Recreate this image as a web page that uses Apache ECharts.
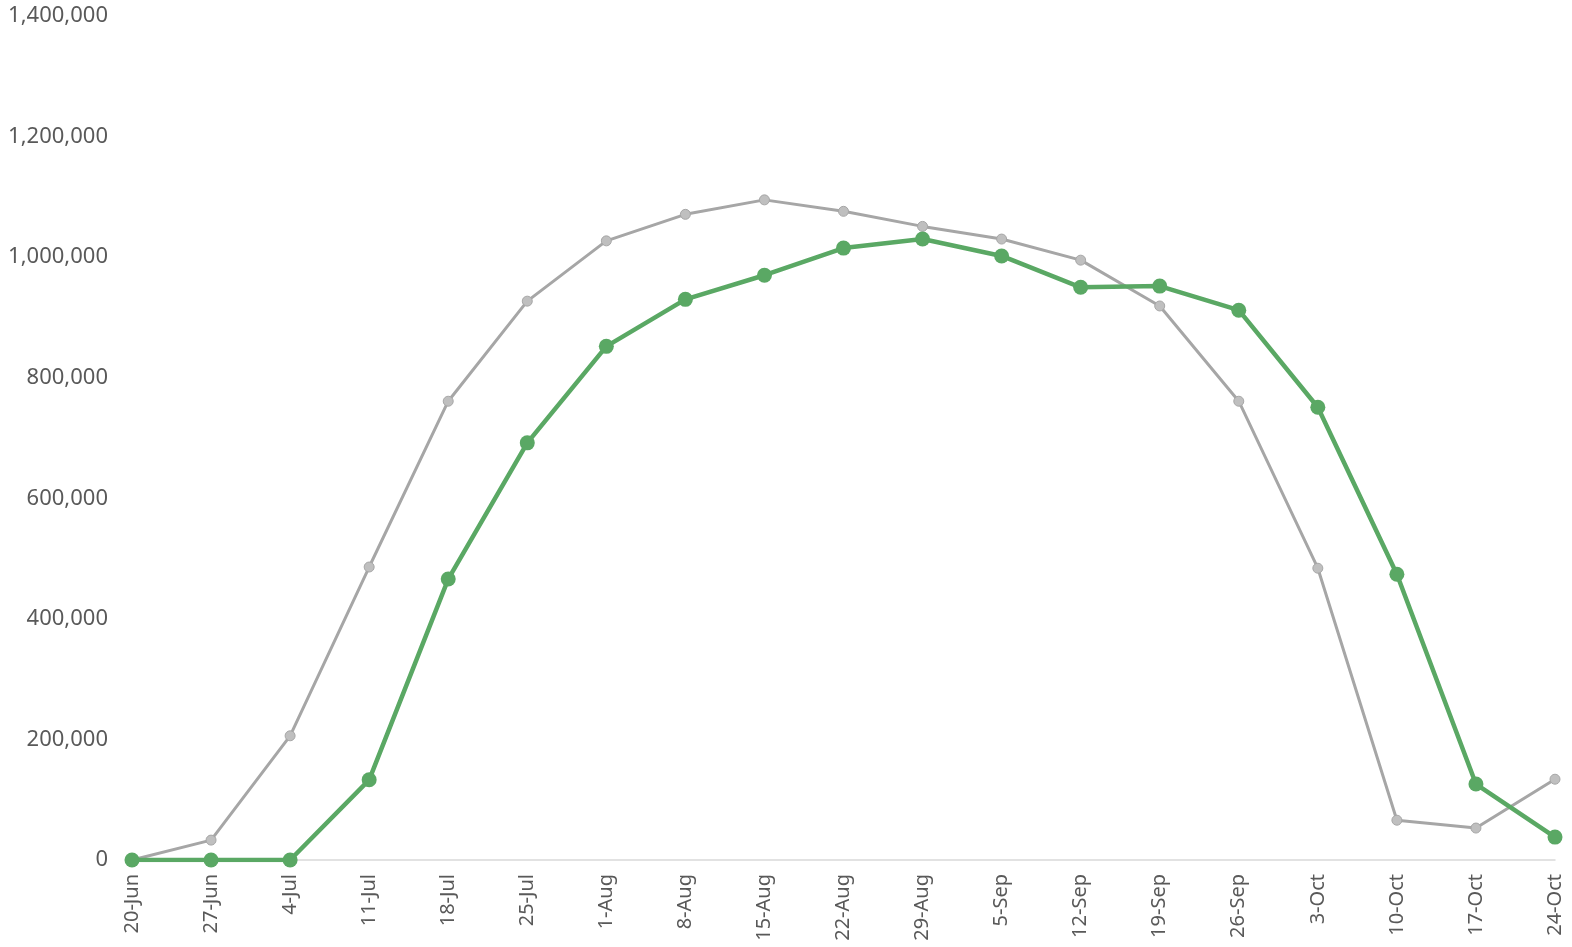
<!DOCTYPE html>
<html>
<head>
<meta charset="utf-8">
<script src="https://cdn.jsdelivr.net/npm/echarts@6/dist/echarts.min.js"></script>
<style>html,body{margin:0;padding:0;background:#fff;}#c{width:1572px;height:947px;}</style>
</head>
<body>
<div id="c"></div>
<script>
const categories = ['20-Jun','27-Jun','4-Jul','11-Jul','18-Jul','25-Jul','1-Aug','8-Aug','15-Aug','22-Aug','29-Aug','5-Sep','12-Sep','19-Sep','26-Sep','3-Oct','10-Oct','17-Oct','24-Oct'];
const grayValues = [0,33000,206000,486000,761000,927000,1027000,1071000,1095000,1076000,1051000,1030000,995000,919000,761000,484000,66000,53000,134000];
const greenValues = [0,0,0,133000,466000,692000,852000,930000,970000,1015000,1030000,1002000,950000,952000,912000,751000,474000,126000,38000];
const yTicks = {min:0, max:1400000, interval:200000};

const chart = echarts.init(document.getElementById('c'));
chart.setOption({
  animation:false,
  grid:{left:132, right:17, top:16, bottom:87, containLabel:false},
  xAxis:{
    type:'category', data:categories, boundaryGap:false,
    axisLine:{lineStyle:{color:'#d9d9d9', width:1.5}},
    axisTick:{show:false},
    axisLabel:{rotate:90, color:'#595959', fontSize:20, fontFamily:'Noto Sans', margin:14, interval:0}
  },
  yAxis:{
    type:'value', min:yTicks.min, max:yTicks.max, interval:yTicks.interval,
    splitLine:{show:false}, axisLine:{show:false}, axisTick:{show:false},
    axisLabel:{color:'#595959', fontSize:22, fontFamily:'Noto Sans', margin:24,
      formatter:v=>v.toLocaleString('en-US')}
  },
  series:[
    {type:'line', data:grayValues, symbol:'circle', symbolSize:10,
     lineStyle:{color:'#a6a6a6', width:3},
     itemStyle:{color:'#bfbfbf', borderColor:'#a6a6a6', borderWidth:1}, z:2},
    {type:'line', data:greenValues, symbol:'circle', symbolSize:15,
     lineStyle:{color:'#5aa864', width:4.5},
     itemStyle:{color:'#5aa864'}, z:3}
  ]
});
</script>
</body>
</html>
